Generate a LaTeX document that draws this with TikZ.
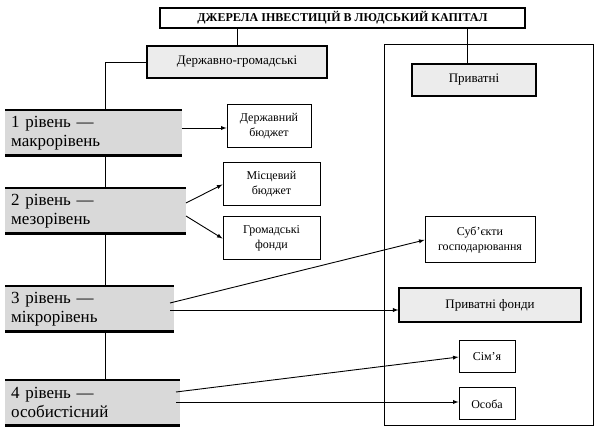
\documentclass[tikz,border=0pt]{standalone}
\usepackage{fontspec}
\setmainfont{Liberation Serif}
\begin{document}
\begin{tikzpicture}[x=1pt,y=-1pt,
 box/.style={draw,line width=1pt,fill=white,inner sep=1pt,align=center,font=\fontsize{12}{15}\selectfont},
 gbox/.style={draw,line width=1.2pt,fill=gray!15,inner sep=1pt,align=center,font=\fontsize{13}{15}\selectfont},
 lvl/.style={fill=gray!30,inner sep=0pt,align=left,font=\fontsize{17}{19}\selectfont,anchor=north west},
 arr/.style={-latex,line width=0.9pt},
 ln/.style={line width=0.9pt}]
\useasboundingbox (0,0) rectangle (600,435);
\node[draw,line width=1.2pt,minimum width=365pt,minimum height=20pt,inner sep=0pt,font=\bfseries\fontsize{12}{13}\selectfont] (t) at (342.5,18) {ДЖЕРЕЛА ІНВЕСТИЦІЙ В ЛЮДСЬКИЙ КАПІТАЛ};
\node[draw,line width=0.8pt,minimum width=209pt,minimum height=381pt] (R) at (488.5,234.5) {};
\node[gbox,minimum width=180pt,minimum height=32pt] (dg) at (237,62) {Державно-громадські};
\node[gbox,minimum width=124pt,minimum height=32pt] (pr) at (474,80) {Приватні};
\foreach \n/\y/\w/\t in {l1/110/175/{1 рівень —\\макрорівень},l2/188/179/{2 рівень —\\мезорівень},l3/286/167/{3 рівень —\\мікрорівень},l4/380/173/{4 рівень —\\особистісний}}{
 \node[lvl,minimum width=\w pt,text width=\w pt-10pt,minimum height=45pt,inner xsep=6pt] (\n) at (5,\y) {\t};
 \draw[line width=2.5pt] (\n.north west)--(\n.north east) (\n.south west)--(\n.south east);}
\node[box,minimum width=84pt,minimum height=43pt] (db) at (269,126.5) {Державний\\бюджет};
\node[box,minimum width=97pt,minimum height=43pt] (mb) at (271.5,184.5) {Місцевий\\бюджет};
\node[box,minimum width=97pt,minimum height=43pt] (gf) at (271.5,238.5) {Громадські\\фонди};
\node[box,minimum width=110pt,minimum height=46pt] (sg) at (480,240) {Суб’єкти\\господарювання};
\node[gbox,minimum width=182pt,minimum height=34pt] (pf) at (490,305) {Приватні фонди};
\node[box,minimum width=56pt,minimum height=32pt] (sm) at (487,357) {Сім’я};
\node[box,minimum width=56pt,minimum height=32pt] (os) at (487,404) {Особа};
\draw[ln] (t.south -| dg) -- (dg.north);
\draw[ln] (t.south -| 467,0) -- (pr.north -| 467,0);
\draw[ln] (dg.west) -- (105,62) -- (105,110);
\foreach \a/\b in {l1/l2,l2/l3,l3/l4} \draw[ln] (105,0 |- \a.south) -- (105,0 |- \b.north);
\draw[arr] (182,128) -- (db.west |- 0,128);
\draw[arr] (186,203) -- (mb.west);
\draw[arr] (186,216) -- (gf.west);
\draw[arr] (170,303) -- (sg.west);
\draw[arr] (170,310) -- (pf.west |- 0,310);
\draw[arr] (176,392) -- (sm.west);
\draw[arr] (176,402) -- (os.west |- 0,402);
\end{tikzpicture}
\end{document}
